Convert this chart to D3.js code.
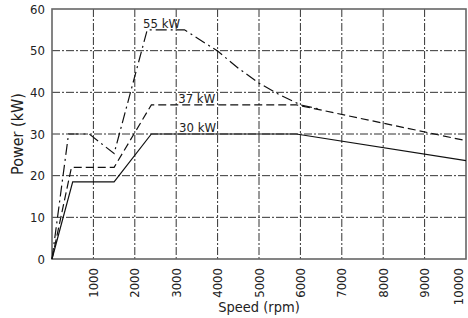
<!DOCTYPE html>
<html>
<head>
<meta charset="utf-8">
<script src="https://cdn.jsdelivr.net/npm/d3@7"></script>
<style>
body{margin:0;background:#fff}
text{font-family:"DejaVu Sans Condensed","DejaVu Sans",sans-serif;fill:#222}
</style>
</head>
<body>
<svg></svg>
<script>
// speed in rpm, power in kW
var xTicks=[1000,2000,3000,4000,5000,6000,7000,8000,9000,10000]
var yTicks=[0,10,20,30,40,50,60]

var speed30=[0,500,1500,2400,5900,10000]
var power30=[0,18.5,18.5,30,30,23.6]

var speed37=[0,470,1500,2400,5900,10000]
var power37=[0,22,22,37,37,28.4]

var speed55=[0,400,900,1500,2300,3200,4000,4500,5000,5500,6000,6450]
var power55=[0,30,30,25.3,55,55,49.9,45.8,42.2,39.4,37,36]

var labels=[
 {text:"55 kW",x:2200,y:55},
 {text:"37 kW",x:3050,y:37},
 {text:"30 kW",x:3070,y:30}
]

var screen={width:468,height:318}
var margins={top:9,right:2,bottom:59,left:52}

var svg=d3.select("svg")
 .attr("width",screen.width)
 .attr("height",screen.height)

var width=screen.width-margins.left-margins.right
var height=screen.height-margins.top-margins.bottom

var xScale=d3.scaleLinear().domain([0,10000]).range([0,width])
var yScale=d3.scaleLinear().domain([0,60]).range([height,0])

var graph=svg.append("g")
 .attr("transform","translate("+margins.left+","+margins.top+")")

// grid
graph.selectAll(".vgrid")
 .data(xTicks.slice(0,-1))
 .enter().append("line")
 .attr("x1",function(d){return xScale(d)})
 .attr("x2",function(d){return xScale(d)})
 .attr("y1",0).attr("y2",height)
 .attr("stroke","#333").attr("stroke-width",1)
 .attr("stroke-dasharray","8,2,2,2")

graph.selectAll(".hgrid")
 .data(yTicks.slice(1,-1))
 .enter().append("line")
 .attr("y1",function(d){return yScale(d)})
 .attr("y2",function(d){return yScale(d)})
 .attr("x1",0).attr("x2",width)
 .attr("stroke","#333").attr("stroke-width",1)
 .attr("stroke-dasharray","8,2,2,2")

// frame
graph.append("rect")
 .attr("x",0).attr("y",0)
 .attr("width",width).attr("height",height)
 .attr("fill","none").attr("stroke","#666").attr("stroke-width",1.6)

// axes
var xAxis=d3.axisBottom(xScale).tickValues(xTicks).tickSize(0).tickFormat(d3.format("d"))
var yAxis=d3.axisLeft(yScale).tickValues(yTicks).tickSize(0).tickPadding(7)

var gx=graph.append("g")
 .attr("transform","translate(0,"+height+")")
 .call(xAxis)
gx.select(".domain").remove()
// last label pulled in a little so it stays inside the window
gx.selectAll(".tick")
 .attr("transform",function(d){return "translate("+Math.min(xScale(d),width-8)+",0)"})
gx.selectAll("text")
 .attr("transform","rotate(-90)")
 .attr("text-anchor","end")
 .attr("x",-9).attr("y",0).attr("dy","0.35em")
 .style("font-size","13px")

var gy=graph.append("g").call(yAxis)
gy.select(".domain").remove()
gy.selectAll("text").style("font-size","13px")

// curves
var drawCurve=function(sp,pw,dash)
{
 var pts=sp.map(function(s,i){return [s,pw[i]]})
 var lineGenerator=d3.line()
  .x(function(d){return xScale(d[0])})
  .y(function(d){return yScale(d[1])})
 graph.append("path")
  .datum(pts)
  .attr("d",lineGenerator)
  .attr("fill","none")
  .attr("stroke","#111")
  .attr("stroke-width",1.2)
  .attr("stroke-dasharray",dash)
}

drawCurve(speed30,power30,null)
drawCurve(speed37,power37,"8,4")
drawCurve(speed55,power55,"11,4,2,4")

graph.selectAll(".lbl")
 .data(labels)
 .enter().append("text")
 .attr("x",function(d){return xScale(d.x)})
 .attr("y",function(d){return yScale(d.y)-2})
 .style("font-size","13px")
 .text(function(d){return d.text})

// axis titles
svg.append("text")
 .attr("transform","translate(23,"+(margins.top+height/2)+") rotate(-90)")
 .attr("text-anchor","middle")
 .style("font-size","16px")
 .text("Power (kW)")

svg.append("text")
 .attr("x",margins.left+width/2)
 .attr("y",312)
 .attr("text-anchor","middle")
 .style("font-size","14.5px")
 .text("Speed (rpm)")
</script>
</body>
</html>
